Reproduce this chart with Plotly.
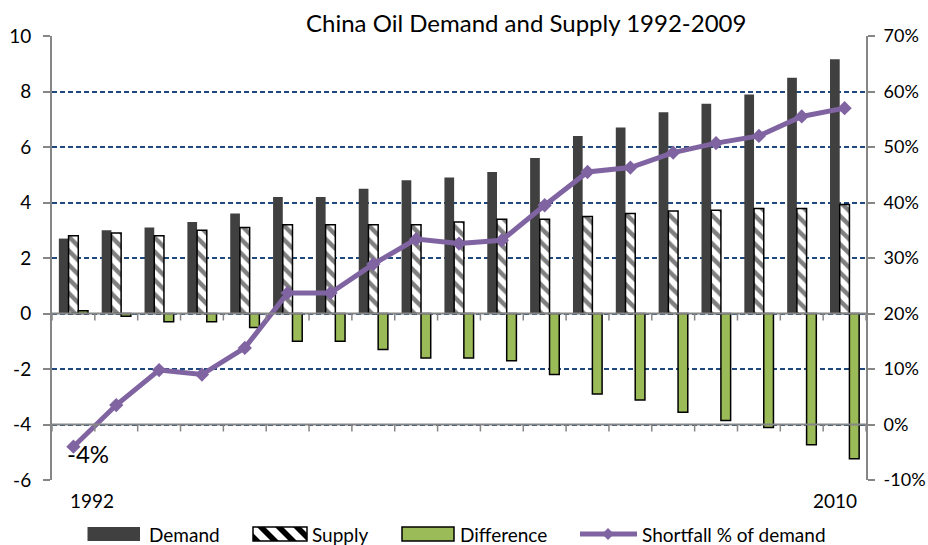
import plotly.graph_objects as go

# China oil demand and supply (million barrels/day), 1992-2010
years = [1992, 1993, 1994, 1995, 1996, 1997, 1998, 1999, 2000, 2001,
         2002, 2003, 2004, 2005, 2006, 2007, 2008, 2009, 2010]
demand = [2.7, 3.0, 3.1, 3.3, 3.6, 4.2, 4.2, 4.5, 4.8, 4.9,
          5.1, 5.6, 6.4, 6.7, 7.25, 7.56, 7.89, 8.5, 9.16]
supply = [2.8, 2.9, 2.8, 3.0, 3.1, 3.2, 3.2, 3.2, 3.2, 3.3,
          3.4, 3.4, 3.5, 3.6, 3.69, 3.72, 3.78, 3.78, 3.93]
difference = [0.1, -0.1, -0.3, -0.3, -0.5, -1.0, -1.0, -1.3, -1.6, -1.6,
              -1.7, -2.2, -2.9, -3.12, -3.56, -3.86, -4.11, -4.73, -5.23]
# shortfall as a fraction of demand
shortfall = [-0.04, 0.035, 0.098, 0.09, 0.138, 0.237, 0.237, 0.289, 0.334, 0.326,
             0.332, 0.395, 0.455, 0.463, 0.49, 0.507, 0.52, 0.555, 0.57]

left_ticks = [-6, -4, -2, 0, 2, 4, 6, 8, 10]
right_ticks = [-0.1, 0.0, 0.1, 0.2, 0.3, 0.4, 0.5, 0.6, 0.7]

FONT = "Lato"
AXIS_GRAY = "#868686"
GRID_BLUE = "#1F497D"
DEMAND_COLOR = "#404040"
DIFF_COLOR = "#9BBB59"
LINE_COLOR = "#8064A2"

W, H = 928, 545
L, R, T, B = 52, 62, 36, 65
PW, PH = W - L - R, H - T - B
TICK_PX = 7

LEFT_RANGE = [left_ticks[0], left_ticks[-1]]
RIGHT_RANGE = [right_ticks[0], right_ticks[-1]]
X_RANGE = [years[0] - 0.5, years[-1] + 0.5]
# tick marks fall between the yearly categories
boundaries = [y - 0.5 for y in years] + [years[-1] + 0.5]


def px_x(px):
    return (px - L) / PW


def px_y(py):
    return (H - B - py) / PH


fig = go.Figure()
fig.add_bar(name="Demand", x=years, y=demand,
            marker=dict(color=DEMAND_COLOR, line=dict(width=0)))
fig.add_bar(name="Supply", x=years, y=supply,
            marker=dict(color="white", line=dict(color="black", width=1.5),
                        pattern=dict(shape="\\", fgcolor="black", bgcolor="white",
                                     size=10, solidity=0.45)))
fig.add_bar(name="Difference", x=years, y=difference,
            marker=dict(color=DIFF_COLOR, line=dict(color="black", width=1.5)))
fig.add_scatter(name="Shortfall % of demand", x=years, y=shortfall,
                yaxis="y2", mode="lines+markers",
                line=dict(color=LINE_COLOR, width=5),
                marker=dict(symbol="diamond", size=11, color=LINE_COLOR))

shapes = []
# year axis line and tick marks on the zero line of each value axis
for yref, rng in (("y", LEFT_RANGE), ("y2", RIGHT_RANGE)):
    tick_len = TICK_PX * (rng[1] - rng[0]) / PH
    shapes.append(dict(type="line", xref="paper", yref=yref, x0=0, x1=1, y0=0, y1=0,
                       layer="above", line=dict(color=AXIS_GRAY, width=2)))
    for b in boundaries:
        shapes.append(dict(type="line", xref="x", yref=yref, x0=b, x1=b,
                           y0=0, y1=-tick_len, layer="above",
                           line=dict(color=AXIS_GRAY, width=1.5)))

tick_font = dict(family=FONT, size=19, color="black")
annotations = [
    dict(text="China Oil Demand and Supply 1992-2009", xref="paper", yref="paper",
         x=px_x(526), y=px_y(23), xanchor="center", yanchor="middle", showarrow=False,
         font=dict(family=FONT, size=24, color="black")),
    dict(text=str(years[0]), xref="x", yref="paper", x=years[0], xshift=19, y=px_y(500),
         yanchor="middle", showarrow=False, font=tick_font),
    dict(text=str(years[-1]), xref="x", yref="paper", x=years[-1], xshift=-9.5,
         y=px_y(500), yanchor="middle", showarrow=False, font=tick_font),
    dict(text=f"{shortfall[0]:.0%}", xref="x", yref="y2", x=years[0], y=shortfall[0],
         xshift=15, yshift=-7, showarrow=False,
         font=dict(family=FONT, size=24, color="black")),
]

# legend drawn below the plot
LY0, LY1 = 527, 541
LYM = (LY0 + LY1) / 2


def rect(x0, x1, **kw):
    shapes.append(dict(type="rect", xref="paper", yref="paper", x0=px_x(x0), x1=px_x(x1),
                       y0=px_y(LY1), y1=px_y(LY0), **kw))


def clip_poly(poly, x0, x1, y0, y1):
    def clip(pts, inside, inter):
        out = []
        for i in range(len(pts)):
            cur, prev = pts[i], pts[i - 1]
            if inside(cur):
                if not inside(prev):
                    out.append(inter(prev, cur))
                out.append(cur)
            elif inside(prev):
                out.append(inter(prev, cur))
        return out

    def ix(xv):
        return lambda p, q: (xv, p[1] + (q[1] - p[1]) * (xv - p[0]) / (q[0] - p[0]))

    def iy(yv):
        return lambda p, q: (p[0] + (q[0] - p[0]) * (yv - p[1]) / (q[1] - p[1]), yv)

    pts = clip(poly, lambda p: p[0] >= x0, ix(x0))
    if pts:
        pts = clip(pts, lambda p: p[0] <= x1, ix(x1))
    if pts:
        pts = clip(pts, lambda p: p[1] >= y0, iy(y0))
    if pts:
        pts = clip(pts, lambda p: p[1] <= y1, iy(y1))
    return pts


rect(87.5, 140, fillcolor=DEMAND_COLOR, line=dict(width=0))

SX0, SX1 = 253, 307
rect(SX0, SX1, fillcolor="white", line=dict(width=0))
stripe_path = ""
step, stripe_w, slant = 18, 8, LY1 - LY0
start = SX0 - slant - step
while start < SX1 + step:
    poly = [(start, LY0), (start + stripe_w, LY0),
            (start + stripe_w + slant, LY1), (start + slant, LY1)]
    pts = clip_poly(poly, SX0, SX1, LY0, LY1)
    if len(pts) >= 3:
        stripe_path += "M" + "L".join(f"{px_x(a):.5f},{px_y(b):.5f}" for a, b in pts) + "Z"
    start += step
shapes.append(dict(type="path", xref="paper", yref="paper", path=stripe_path,
                   fillcolor="black", line=dict(width=0)))
rect(SX0, SX1, fillcolor="rgba(0,0,0,0)", line=dict(color="black", width=1.5))

rect(402, 454, fillcolor=DIFF_COLOR, line=dict(color="black", width=1.5))

shapes.append(dict(type="line", xref="paper", yref="paper", x0=px_x(580), x1=px_x(637),
                   y0=px_y(LYM), y1=px_y(LYM), line=dict(color=LINE_COLOR, width=5)))
dx, dy = 6, 6
shapes.append(dict(type="path", xref="paper", yref="paper",
                   path=(f"M{px_x(608 - dx)},{px_y(LYM)}L{px_x(608)},{px_y(LYM - dy)}"
                         f"L{px_x(608 + dx)},{px_y(LYM)}L{px_x(608)},{px_y(LYM + dy)}Z"),
                   fillcolor=LINE_COLOR, line=dict(width=0)))

legend_font = dict(family=FONT, size=19, color="black")
for label, xpos in [("Demand", 147), ("Supply", 310), ("Difference", 458),
                    ("Shortfall % of demand", 640)]:
    annotations.append(dict(text=label, xref="paper", yref="paper", x=px_x(xpos),
                            y=px_y(LYM), xanchor="left", yanchor="middle",
                            showarrow=False, font=legend_font))

value_axis = dict(showgrid=False, zeroline=False, showline=True, linecolor=AXIS_GRAY,
                  linewidth=2, ticks="outside", ticklen=TICK_PX, tickcolor=AXIS_GRAY,
                  tickwidth=1.5, tickmode="array", automargin=False)

fig.update_layout(
    width=W, height=H,
    margin=dict(l=L, r=R, t=T, b=B, autoexpand=False),
    paper_bgcolor="white", plot_bgcolor="white",
    barmode="group", bargap=0.32, bargroupgap=0,
    showlegend=False,
    font=dict(family=FONT, color="black"),
    xaxis=dict(range=X_RANGE, showline=False, showgrid=False, zeroline=False,
               ticks="", showticklabels=False, automargin=False),
    yaxis=dict(value_axis, range=LEFT_RANGE, tickvals=left_ticks,
               ticktext=[f"{v:d}" for v in left_ticks], tickfont=tick_font,
               showgrid=True, gridcolor=GRID_BLUE, griddash="5px,3px", gridwidth=1.5,
               ticklabelstandoff=8),
    yaxis2=dict(value_axis, range=RIGHT_RANGE, tickvals=right_ticks,
                ticktext=[f"{v:.0%}" for v in right_ticks],
                tickfont=dict(tick_font, size=18),
                overlaying="y", side="right", anchor="x", ticklabelstandoff=5),
    annotations=annotations,
    shapes=shapes,
)

fig.write_html("out.html")
